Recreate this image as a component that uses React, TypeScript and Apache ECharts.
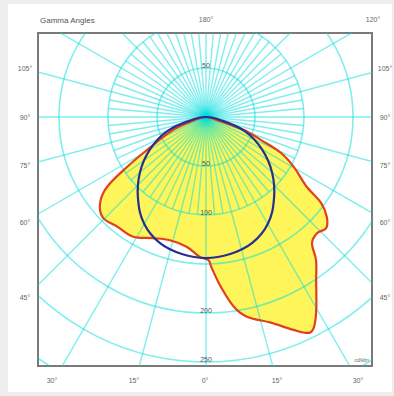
import React, { useEffect, useRef } from "react";
import * as echarts from "echarts";

// ---- data (gamma angle in degrees from nadir, signed: - = left half, + = right half) ----
const redGamma = [-90, -72.6, -68.5, -60.8, -57.7, -54.7, -51, -45.8, -39, -31.3, -23.7, -16.3, -8.3, -2.5, 1, 2, 5, 8.4, 11.6, 17.5, 22.4, 25.5, 27.2, 29.7, 34, 37.6, 40.1, 43.7, 47.2, 50.4, 53.2, 55.3, 60.4, 64.4, 67.3, 71.1, 73];
const redIntensity = [0, 17, 36, 69, 95, 124, 139, 147, 144, 143, 135, 131, 134, 143, 146, 153, 174, 196, 208, 220, 235, 244, 241, 227, 201, 184, 168, 164, 167, 160, 147, 125, 103, 85, 61, 41, 15];

const blueGamma = [-90, -80, -70, -60, -50, -40, -30, -20, -10, 0, 10, 20, 30, 40, 50, 60, 70, 80];
const blueIntensity = [0, 12, 42, 66, 88, 108, 126, 137, 142, 144, 142, 137, 126, 108, 88, 66, 42, 12];

// grid rings and their labels (cd/klm)
const ringRadii = [50, 100, 150, 200, 250, 300, 350];
const lowerRingLabels = [50, 100, 200, 250];
const upperRingLabels = [50];

// angle tick labels around the frame
const leftAngleLabels = ["105°", "90°", "75°", "60°", "45°"];
const bottomAngleLabels = ["30°", "15°", "0°", "15°", "30°"];
const topCenterLabel = "180°";
const topRightLabel = "120°";
const titleText = "Gamma Angles";
const unitText = "cd/klm";

const DEG = Math.PI / 180;
const toXY = (g: number, r: number) => [r * Math.sin(g * DEG), -r * Math.cos(g * DEG)];

const redPoints = redGamma.map((g, i) => toXY(g, redIntensity[i]));
const bluePoints = blueGamma.map((g, i) => toXY(g, blueIntensity[i]));

// spokes: fine every 5° near the centre, major every 15° to the frame
const spokes: number[][] = [];
for (let a = 0; a < 360; a += 5) spokes.push([a, a % 15 === 0 ? 500 : 100]);

const PPU = 0.98; // pixels per cd/klm
const FRAME = { left: 38, top: 33, right: 372, bottom: 366 };
const ORIGIN = { x: 206, y: 117 };

const GRID_COLOR = "rgba(0,222,222,0.5)";
const FONT = "Liberation Sans, Arial, sans-serif";

export default function App() {
  const ref = useRef<HTMLDivElement>(null);
  useEffect(() => {
    if (!ref.current) return;
    const chart = echarts.init(ref.current, null, { renderer: "svg" });

    const polyItem = (pts: number[][], style: any, smooth: number) => (params: any, api: any) => {
      if (params.dataIndex !== 0) return null;
      return {
        type: "polygon",
        shape: { points: pts.map((p) => api.coord(p)), smooth },
        style,
      };
    };

    const leftYs = [68, 117, 165, 222, 297];
    const bottomXs = [52, 134, 205, 277, 358];

    const graphics: any[] = [
      { type: "rect", z: -100, shape: { x: 8, y: 4, width: 384, height: 388 }, style: { fill: "#ffffff" } },
      { type: "text", x: 40, y: 20, style: { text: titleText, fill: "#555", fontSize: 8, fontFamily: FONT, textAlign: "left", align: "left", textVerticalAlign: "middle", verticalAlign: "middle" } },
      { type: "text", x: 206, y: 19, style: { text: topCenterLabel, fill: "#666", fontSize: 7, fontFamily: FONT, textAlign: "center", align: "center", textVerticalAlign: "middle", verticalAlign: "middle" } },
      { type: "text", x: 373, y: 19, style: { text: topRightLabel, fill: "#666", fontSize: 7, fontFamily: FONT, textAlign: "center", align: "center", textVerticalAlign: "middle", verticalAlign: "middle" } },
      { type: "text", x: 369, y: 360, style: { text: unitText, fill: "#666", fontSize: 5, fontFamily: FONT, textAlign: "right", align: "right", textVerticalAlign: "middle", verticalAlign: "middle" } },
    ];
    leftAngleLabels.forEach((t, i) => {
      graphics.push({ type: "text", x: 25, y: leftYs[i], style: { text: t, fill: "#666", fontSize: 7, fontFamily: FONT, textAlign: "center", align: "center", textVerticalAlign: "middle", verticalAlign: "middle" } });
      graphics.push({ type: "text", x: 385, y: leftYs[i], style: { text: t, fill: "#666", fontSize: 7, fontFamily: FONT, textAlign: "center", align: "center", textVerticalAlign: "middle", verticalAlign: "middle" } });
    });
    bottomAngleLabels.forEach((t, i) => {
      graphics.push({ type: "text", x: bottomXs[i], y: 380, style: { text: t, fill: "#666", fontSize: 7, fontFamily: FONT, textAlign: "center", align: "center", textVerticalAlign: "middle", verticalAlign: "middle" } });
    });

    const ringLabelData = [
      ...upperRingLabels.map((v) => [v, 1]),
      ...lowerRingLabels.map((v) => [v, -1]),
    ];

    chart.setOption({
      animation: false,
      backgroundColor: "#eeeeee",
      grid: {
        left: FRAME.left,
        top: FRAME.top,
        width: FRAME.right - FRAME.left,
        height: FRAME.bottom - FRAME.top,
        show: true,
        borderColor: "#7a7a7a",
        borderWidth: 2,
        backgroundColor: "#ffffff",
      },
      xAxis: {
        type: "value",
        min: -(ORIGIN.x - FRAME.left) / PPU,
        max: (FRAME.right - ORIGIN.x) / PPU,
        axisLine: { show: false },
        axisTick: { show: false },
        axisLabel: { show: false },
        splitLine: { show: false },
      },
      yAxis: {
        type: "value",
        min: -(FRAME.bottom - ORIGIN.y) / PPU,
        max: (ORIGIN.y - FRAME.top) / PPU,
        axisLine: { show: false },
        axisTick: { show: false },
        axisLabel: { show: false },
        splitLine: { show: false },
      },
      graphic: graphics,
      series: [
        {
          name: "fill",
          type: "custom",
          z: 1,
          silent: true,
          clip: true,
          data: redPoints,
          renderItem: polyItem(redPoints, { fill: "#fdf55a", stroke: "none" }, 0.35),
        },
        {
          name: "rings",
          type: "custom",
          z: 2,
          silent: true,
          clip: true,
          data: ringRadii.map((r) => [r]),
          renderItem: (params: any, api: any) => {
            const c = api.coord([0, 0]);
            const rp = api.size([api.value(0), 0])[0];
            return {
              type: "circle",
              shape: { cx: c[0], cy: c[1], r: rp },
              style: { fill: "none", stroke: GRID_COLOR, lineWidth: 1.6 },
            };
          },
        },
        {
          name: "spokes",
          type: "custom",
          z: 2,
          silent: true,
          clip: true,
          data: spokes,
          renderItem: (params: any, api: any) => {
            const g = api.value(0);
            const L = api.value(1);
            const p0 = api.coord([0, 0]);
            const p1 = api.coord(toXY(g, L));
            return {
              type: "line",
              shape: { x1: p0[0], y1: p0[1], x2: p1[0], y2: p1[1] },
              style: { stroke: GRID_COLOR, lineWidth: 1.4 },
            };
          },
        },
        {
          name: "C0-C180",
          type: "custom",
          z: 3,
          silent: true,
          clip: true,
          data: redPoints,
          renderItem: polyItem(redPoints, { fill: "none", stroke: "#e2401c", lineWidth: 2.2, lineJoin: "round" }, 0.35),
        },
        {
          name: "C90-C270",
          type: "custom",
          z: 4,
          silent: true,
          clip: true,
          data: bluePoints,
          renderItem: polyItem(bluePoints, { fill: "none", stroke: "#27308f", lineWidth: 2.2, lineJoin: "round" }, 0.4),
        },
        {
          name: "ringLabels",
          type: "custom",
          z: 5,
          silent: true,
          data: ringLabelData,
          renderItem: (params: any, api: any) => {
            const v = api.value(0);
            const dir = api.value(1);
            const p = api.coord([0, dir * v]);
            return {
              type: "text",
              x: p[0],
              y: p[1] - 3,
              style: {
                text: String(v),
                fill: "#555",
                fontSize: 7,
                fontFamily: FONT,
                align: "center",
                verticalAlign: "middle",
                textAlign: "center",
                textVerticalAlign: "middle",
              },
            };
          },
        },
      ],
    });
    return () => chart.dispose();
  }, []);

  return <div ref={ref} style={{ position: "fixed", left: 0, top: 0, width: 394, height: 396 }} />;
}
